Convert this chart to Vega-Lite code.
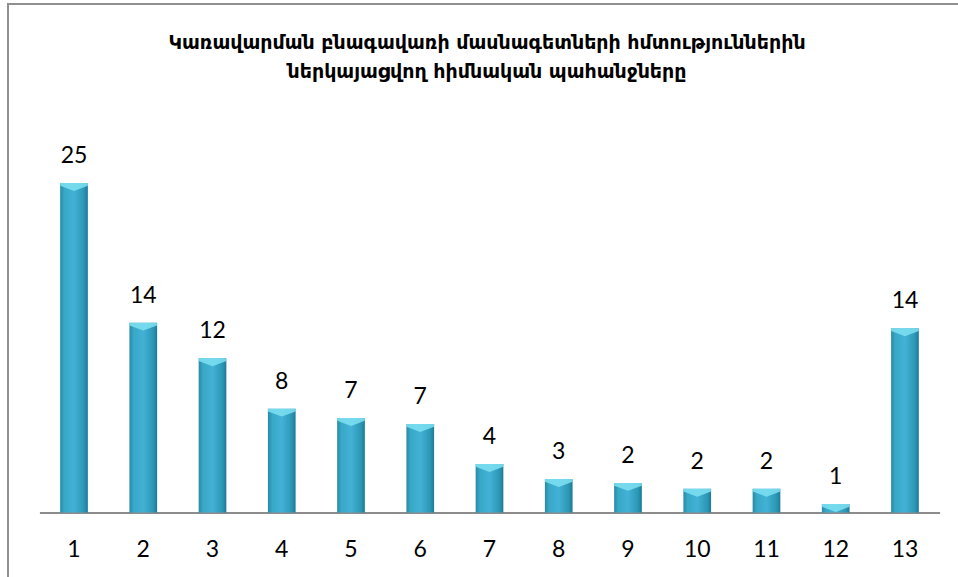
{
  "$schema": "https://vega.github.io/schema/vega-lite/v6.json",
  "width": 952,
  "height": 576,
  "autosize": {"type": "none"},
  "padding": {"left": 8, "top": 4, "right": 0, "bottom": 0},
  "background": "white",
  "title": {
    "text": ["Կառավարման բնագավառի մասնագետների հմտություններին", "ներկայացվող հիմնական պահանջները"],
    "font": "DejaVu Sans",
    "fontSize": 19,
    "fontWeight": "bold",
    "color": "#000000",
    "anchor": "middle",
    "frame": "group",
    "orient": "top",
    "baseline": "top",
    "offset": -78,
    "lineHeight": 29,
    "dx": 3
  },
  "config": {
    "view": {"stroke": "#909090", "strokeWidth": 2}
  },
  "data": {
    "values": [
      {"n": 1, "v": 25},
      {"n": 2, "v": 14.4},
      {"n": 3, "v": 11.7},
      {"n": 4, "v": 7.88},
      {"n": 5, "v": 7.17},
      {"n": 6, "v": 6.71},
      {"n": 7, "v": 3.68},
      {"n": 8, "v": 2.54},
      {"n": 9, "v": 2.24},
      {"n": 10, "v": 1.8},
      {"n": 11, "v": 1.8},
      {"n": 12, "v": 0.64},
      {"n": 13, "v": 13.98}
    ]
  },
  "encoding": {
    "x": {
      "field": "n",
      "type": "ordinal",
      "scale": {"range": [31.4, 931.6], "paddingInner": 0.6, "paddingOuter": 0.3},
      "axis": {
        "orient": "bottom",
        "offset": -67.5,
        "title": null,
        "labelAngle": 0,
        "ticks": false,
        "grid": false,
        "labelFont": "Lato",
        "labelFontSize": 23,
        "labelColor": "#000000",
        "labelPadding": 26,
        "domainColor": "#8c8c8c",
        "domainWidth": 2
      }
    },
    "y": {
      "field": "v",
      "type": "quantitative",
      "scale": {"domain": [0, 25], "range": [508.5, 179], "nice": false, "zero": true},
      "axis": null
    }
  },
  "layer": [
    {
      "mark": {
        "type": "bar",
        "color": {
          "gradient": "linear",
          "x1": 0, "y1": 0, "x2": 1, "y2": 0,
          "stops": [
            {"offset": 0, "color": "#2889a6"},
            {"offset": 0.15, "color": "#37a8c6"},
            {"offset": 0.5, "color": "#43b1d6"},
            {"offset": 0.85, "color": "#2c98b6"},
            {"offset": 1, "color": "#1e7a96"}
          ]
        }
      }
    },
    {
      "mark": {
        "type": "point",
        "filled": true,
        "shape": "M-1,0L1,0L1,0.2L0,0.57L-1,0.2Z",
        "size": 767,
        "color": "#7fe2f2",
        "opacity": 0.85,
        "strokeWidth": 0
      }
    },
    {
      "mark": {
        "type": "text",
        "baseline": "alphabetic",
        "dy": -20,
        "font": "Lato",
        "fontSize": 23,
        "color": "#000000"
      },
      "encoding": {
        "text": {"field": "v", "type": "quantitative", "format": ".0f"}
      }
    }
  ]
}
